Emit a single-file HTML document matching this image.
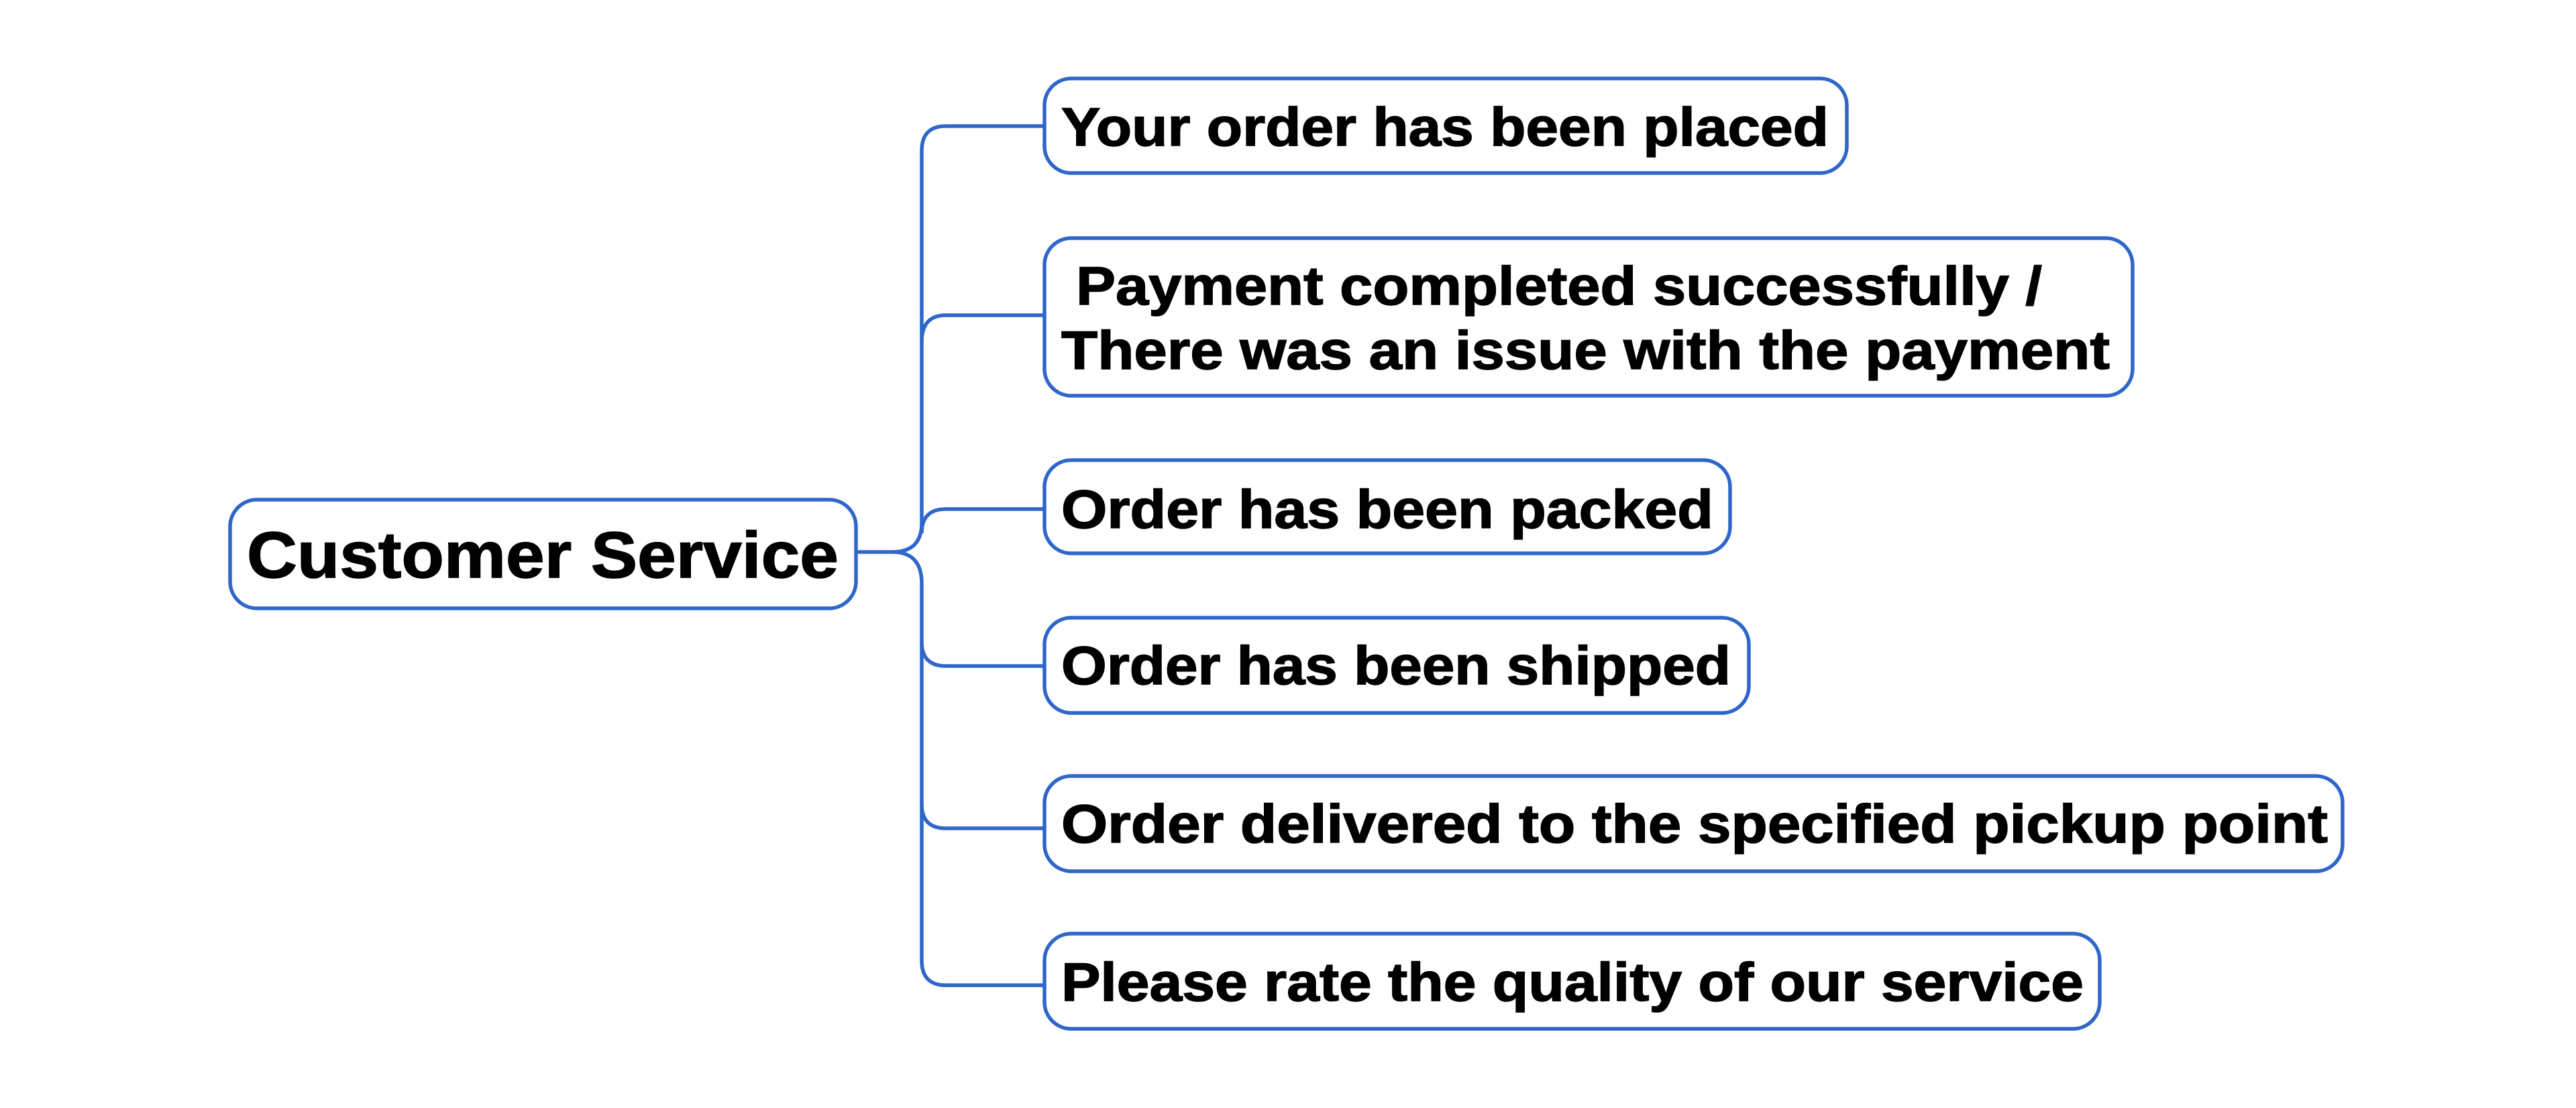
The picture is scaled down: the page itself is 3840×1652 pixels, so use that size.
<!DOCTYPE html>
<html><head><meta charset="utf-8"><style>html,body{margin:0;padding:0;background:#fff;}svg{display:block}</style></head>
<body>
<svg width="3840" height="1652" viewBox="0 0 3840 1652" xmlns="http://www.w3.org/2000/svg">
<g fill="none" stroke="#2f66c9" stroke-width="5.5">
<path d="M1276 823 H1330 Q1374 823 1374 780 V225 Q1374 188 1410 188 H1557"/>
<path d="M1374 510 Q1374 470 1410 470 H1557"/>
<path d="M1374 795 Q1374 759 1410 759 H1557"/>
<path d="M1330 823 Q1374 823 1374 870 V1432 Q1374 1469 1410 1469 H1557"/>
<path d="M1374 957 Q1374 993 1410 993 H1557"/>
<path d="M1374 1199 Q1374 1235 1410 1235 H1557"/>
<rect x="343" y="745" width="933" height="162" rx="40" fill="#fff"/>
<rect x="1557" y="117" width="1196" height="141" rx="40" fill="#fff"/>
<rect x="1557" y="355" width="1622" height="235" rx="40" fill="#fff"/>
<rect x="1557" y="686" width="1022" height="139" rx="40" fill="#fff"/>
<rect x="1557" y="921" width="1050" height="142" rx="40" fill="#fff"/>
<rect x="1557" y="1157" width="1935" height="142" rx="40" fill="#fff"/>
<rect x="1557" y="1392" width="1573" height="142" rx="40" fill="#fff"/>
</g>
<g font-family="Liberation Sans, sans-serif" font-weight="bold" fill="#000" stroke="#000" stroke-width="1.5">
<text x="368" y="861" font-size="97" textLength="882" lengthAdjust="spacingAndGlyphs">Customer Service</text>
<text x="1582" y="217" font-size="81" textLength="1144" lengthAdjust="spacingAndGlyphs">Your order has been placed</text>
<text x="1604" y="454" font-size="81" textLength="1440" lengthAdjust="spacingAndGlyphs">Payment completed successfully /</text>
<text x="1582" y="550" font-size="81" textLength="1563" lengthAdjust="spacingAndGlyphs">There was an issue with the payment</text>
<text x="1582" y="787" font-size="81" textLength="972" lengthAdjust="spacingAndGlyphs">Order has been packed</text>
<text x="1582" y="1020" font-size="81" textLength="998" lengthAdjust="spacingAndGlyphs">Order has been shipped</text>
<text x="1582" y="1256" font-size="81" textLength="1888" lengthAdjust="spacingAndGlyphs">Order delivered to the specified pickup point</text>
<text x="1582" y="1492" font-size="81" textLength="1524" lengthAdjust="spacingAndGlyphs">Please rate the quality of our service</text>
</g>
</svg>
</body></html>
